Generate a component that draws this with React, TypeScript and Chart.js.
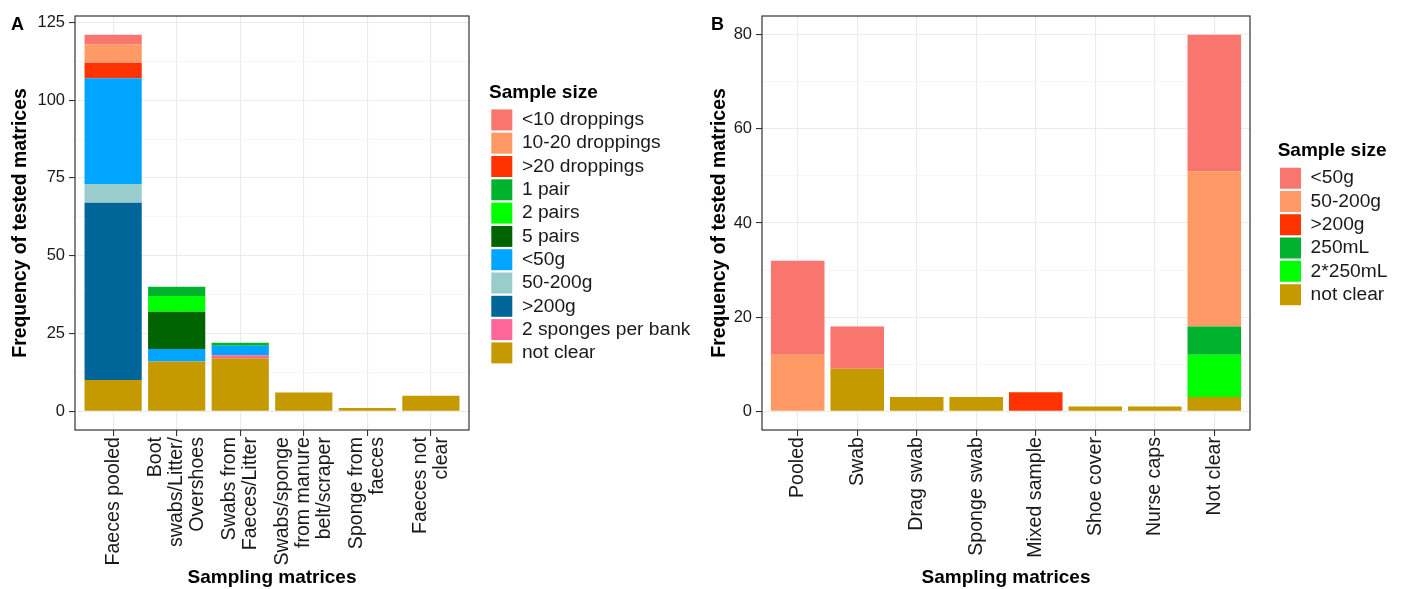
import { useEffect, useRef } from "react";
import { Chart, registerables } from "chart.js";

Chart.register(...registerables);

const FONT = "'Liberation Sans', Arial, Helvetica, sans-serif";

// ---------- Panel A data ----------
const categoriesA: (string | string[])[] = [
  "Faeces pooled",
  ["Boot", "swabs/Litter/", "Overshoes"],
  ["Swabs from", "Faeces/Litter"],
  ["Swabs/sponge", "from manure", "belt/scraper"],
  ["Sponge from", "faeces"],
  ["Faeces not", "clear"],
];
const legendA = [
  "<10 droppings",
  "10-20 droppings",
  ">20 droppings",
  "1 pair",
  "2 pairs",
  "5 pairs",
  "<50g",
  "50-200g",
  ">200g",
  "2 sponges per bank",
  "not clear",
];
const colorsA = [
  "#F8766D",
  "#FF9966",
  "#FF3300",
  "#00B22D",
  "#00FF00",
  "#006400",
  "#00A5FF",
  "#99CCCC",
  "#006699",
  "#FF6699",
  "#C49A00",
];
const a_lt10Droppings = [3, 0, 0, 0, 0, 0];
const a_10to20Droppings = [6, 0, 0, 0, 0, 0];
const a_gt20Droppings = [5, 0, 0, 0, 0, 0];
const a_1pair = [0, 3, 1, 0, 0, 0];
const a_2pairs = [0, 5, 0, 0, 0, 0];
const a_5pairs = [0, 12, 0, 0, 0, 0];
const a_lt50g = [34, 4, 3, 0, 0, 0];
const a_50to200g = [6, 0, 0, 0, 0, 0];
const a_gt200g = [57, 0, 0, 0, 0, 0];
const a_2sponges = [0, 0, 1, 0, 0, 0];
const a_notClear = [10, 16, 17, 6, 1, 5];
const valuesA = [
  a_lt10Droppings,
  a_10to20Droppings,
  a_gt20Droppings,
  a_1pair,
  a_2pairs,
  a_5pairs,
  a_lt50g,
  a_50to200g,
  a_gt200g,
  a_2sponges,
  a_notClear,
];
const yMajorA = [0, 25, 50, 75, 100, 125];
const yMinorA = [12.5, 37.5, 62.5, 87.5, 112.5];

// ---------- Panel B data ----------
const categoriesB: (string | string[])[] = [
  "Pooled",
  "Swab",
  "Drag swab",
  "Sponge swab",
  "Mixed sample",
  "Shoe cover",
  "Nurse caps",
  "Not clear",
];
const legendB = ["<50g", "50-200g", ">200g", "250mL", "2*250mL", "not clear"];
const colorsB = ["#F8766D", "#FF9966", "#FF3300", "#00B22D", "#00FF00", "#C49A00"];
const b_lt50g = [20, 9, 0, 0, 0, 0, 0, 29];
const b_50to200g = [12, 0, 0, 0, 0, 0, 0, 33];
const b_gt200g = [0, 0, 0, 0, 4, 0, 0, 0];
const b_250mL = [0, 0, 0, 0, 0, 0, 0, 6];
const b_2x250mL = [0, 0, 0, 0, 0, 0, 0, 9];
const b_notClear = [0, 9, 3, 3, 0, 1, 1, 3];
const valuesB = [b_lt50g, b_50to200g, b_gt200g, b_250mL, b_2x250mL, b_notClear];
const yMajorB = [0, 20, 40, 60, 80];
const yMinorB = [10, 30, 50, 70];

type Spec = {
  tag: string;
  categories: (string | string[])[];
  legend: string[];
  colors: string[];
  values: number[][];
  yMin: number;
  yMax: number;
  yMajor: number[];
  yMinor: number[];
  padLeft: number;
  yAxisWidth: number;
  yTitlePad: number;
  legendWidth: number;
  legendShift: number;
};

const specA: Spec = {
  tag: "A",
  categories: categoriesA,
  legend: legendA,
  colors: colorsA,
  values: valuesA,
  yMin: -6.05,
  yMax: 127.05,
  yMajor: yMajorA,
  yMinor: yMinorA,
  padLeft: 11,
  yAxisWidth: 64,
  yTitlePad: 0,
  legendWidth: 234,
  legendShift: 20,
};

const specB: Spec = {
  tag: "B",
  categories: categoriesB,
  legend: legendB,
  colors: colorsB,
  values: valuesB,
  yMin: -4,
  yMax: 84,
  yMajor: yMajorB,
  yMinor: yMinorB,
  padLeft: 8,
  yAxisWidth: 51,
  yTitlePad: -1.3,
  legendWidth: 156,
  legendShift: 27.7,
};

function buildConfig(spec: Spec): any {
  const n = spec.categories.length;
  const yTicks = [...spec.yMajor, ...spec.yMinor].sort((a, b) => a - b);
  const isMajor = (ctx: any) => ctx && ctx.tick && spec.yMajor.includes(ctx.tick.value);

  const datasets = spec.legend
    .map((label, k) => ({
      label,
      data: spec.values[k].map((v, i) => ({ x: i, y: v })),
      backgroundColor: spec.colors[k],
      borderWidth: 0,
    }))
    .reverse();

  const decor = {
    id: "panelDecor",
    afterInit(chart: any) {
      const lg = chart.legend;
      if (lg && !lg.__patched) {
        const orig = lg.fit.bind(lg);
        lg.fit = function () {
          orig();
          lg.width = spec.legendWidth;
        };
        lg.__patched = true;
      }
    },
    afterLayout(chart: any) {
      const lg = chart.legend;
      if (lg) {
        lg.left += spec.legendShift;
        lg.right += spec.legendShift;
      }
    },
    beforeDraw(chart: any) {
      const sx = chart.scales.x;
      const items = sx.getLabelItems();
      if (items.__centered) return;
      items.forEach((it: any) => {
        const lines = Array.isArray(it.label) ? it.label.length : 1;
        it.options.translation[0] -= ((lines - 1) / 2) * it.font.lineHeight;
      });
      items.__centered = true;
    },
    afterDraw(chart: any) {
      const { ctx, chartArea: a } = chart;
      ctx.save();
      ctx.strokeStyle = "#333333";
      ctx.lineWidth = 1.2;
      ctx.strokeRect(a.left, a.top, a.right - a.left, a.bottom - a.top);
      ctx.restore();
    },
  };

  return {
    type: "bar",
    data: { datasets },
    options: {
      animation: false,
      responsive: false,
      devicePixelRatio: 1,
      layout: { padding: { left: spec.padLeft, right: 0, top: 0, bottom: 0 } },
      datasets: { bar: { barPercentage: 0.9, categoryPercentage: 1 } },
      scales: {
        x: {
          type: "linear",
          stacked: true,
          offset: false,
          min: -0.6,
          max: n - 1 + 0.6,
          afterBuildTicks: (s: any) => {
            s.ticks = spec.categories.map((_, i) => ({ value: i }));
          },
          afterFit: (s: any) => {
            s.height = 159;
          },
          ticks: {
            autoSkip: false,
            minRotation: 90,
            maxRotation: 90,
            padding: 1,
            color: "#1a1a1a",
            font: { family: FONT, size: 19.6, lineHeight: 1.08 },
            callback: (v: any) => spec.categories[Math.round(Number(v))] ?? "",
          },
          grid: {
            offset: false,
            color: "#EBEBEB",
            lineWidth: 1.1,
            tickLength: 6,
            tickColor: "#333333",
            tickWidth: 1.1,
          },
          border: { display: false },
          title: {
            display: true,
            text: "Sampling matrices",
            color: "#000",
            font: { family: FONT, size: 19, weight: "bold", lineHeight: 1.2 },
            padding: { top: 0, bottom: 0 },
          },
        },
        y: {
          type: "linear",
          stacked: true,
          min: spec.yMin,
          max: spec.yMax,
          afterBuildTicks: (s: any) => {
            s.ticks = yTicks.map((v) => ({ value: v }));
          },
          afterFit: (s: any) => {
            s.width = spec.yAxisWidth;
          },
          ticks: {
            padding: 4,
            color: "#1a1a1a",
            font: { family: FONT, size: 16.5 },
            callback: (v: any) => (spec.yMajor.includes(Number(v)) ? String(v) : ""),
          },
          grid: {
            color: (ctx: any) => (isMajor(ctx) ? "#EBEBEB" : "#F2F2F2"),
            lineWidth: (ctx: any) => (isMajor(ctx) ? 1.1 : 0.7),
            tickLength: 6,
            tickColor: (ctx: any) => (isMajor(ctx) ? "#333333" : "rgba(0,0,0,0)"),
            tickWidth: 1.1,
          },
          border: { display: false },
          title: {
            display: true,
            text: "Frequency of tested matrices",
            color: "#000",
            font: { family: FONT, size: 19.4, weight: "bold", lineHeight: 1 },
            padding: { top: spec.yTitlePad, bottom: 0 },
          },
        },
      },
      plugins: {
        tooltip: { enabled: false },
        title: {
          display: true,
          text: spec.tag,
          align: "start",
          color: "#000",
          font: { family: FONT, size: 18, weight: "bold", lineHeight: 1 },
          padding: { top: 16, bottom: -18 },
        },
        legend: {
          display: true,
          position: "right",
          fullSize: false,
          align: "center",
          reverse: true,
          labels: {
            boxWidth: 21,
            boxHeight: 21,
            padding: 2.3,
            color: "#1a1a1a",
            font: { family: FONT, size: 19.2 },
          },
          title: {
            display: true,
            position: "start",
            text: "Sample size",
            color: "#000",
            font: { family: FONT, size: 19, weight: "bold", lineHeight: 1.2 },
            padding: { top: 3, bottom: 1 },
          },
        },
      },
    },
    plugins: [decor],
  };
}

function Panel({ spec, left }: { spec: Spec; left: number }) {
  const ref = useRef<HTMLCanvasElement>(null);
  useEffect(() => {
    if (!ref.current) return;
    const chart = new Chart(ref.current, buildConfig(spec));
    return () => chart.destroy();
  }, [spec]);
  return (
    <canvas
      ref={ref}
      width={703}
      height={589}
      style={{ position: "absolute", left, top: 0, width: 703, height: 589 }}
    />
  );
}

export default function App() {
  return (
    <div
      style={{
        position: "fixed",
        left: 0,
        top: 0,
        width: 1406,
        height: 589,
        background: "#ffffff",
        overflow: "hidden",
      }}
    >
      <Panel spec={specA} left={0} />
      <Panel spec={specB} left={703} />
    </div>
  );
}
